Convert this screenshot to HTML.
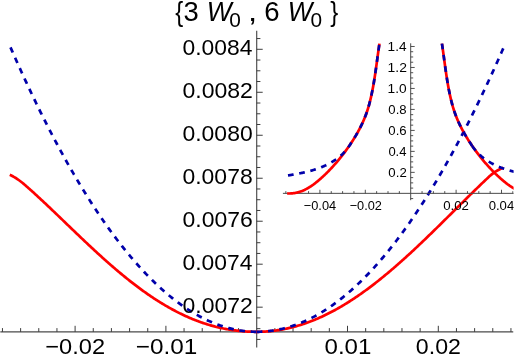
<!DOCTYPE html>
<html><head><meta charset="utf-8"><title>plot</title>
<style>
html,body{margin:0;padding:0;background:#fff;}
body{width:515px;height:361px;overflow:hidden;font-family:"Liberation Sans",sans-serif;}
svg{display:block;}
</style></head><body>
<svg width="515" height="361" viewBox="0 0 515 361">
<rect width="515" height="361" fill="#fff"/>
<g fill="none">
<line x1="0.3" x2="513.4" y1="331.80" y2="331.80" stroke="#4a4a4a" stroke-width="1.15"/>
<line x1="256.70" x2="256.70" y1="30.8" y2="347.6" stroke="#4a4a4a" stroke-width="1.15"/>
<path d="M2.46,331.80V328.10M20.62,331.80V328.10M38.78,331.80V328.10M56.94,331.80V328.10M75.10,331.80V325.80M93.26,331.80V328.10M111.42,331.80V328.10M129.58,331.80V328.10M147.74,331.80V328.10M165.90,331.80V325.80M184.06,331.80V328.10M202.22,331.80V328.10M220.38,331.80V328.10M238.54,331.80V328.10M274.86,331.80V328.10M293.02,331.80V328.10M311.18,331.80V328.10M329.34,331.80V328.10M347.50,331.80V325.80M365.66,331.80V328.10M383.82,331.80V328.10M401.98,331.80V328.10M420.14,331.80V328.10M438.30,331.80V325.80M456.46,331.80V328.10M474.62,331.80V328.10M492.78,331.80V328.10M510.94,331.80V328.10M256.70,339.41H260.40M256.70,328.67H260.40M256.70,317.92H260.40M256.70,307.18H262.70M256.70,296.43H260.40M256.70,285.69H260.40M256.70,274.94H260.40M256.70,264.20H262.70M256.70,253.45H260.40M256.70,242.71H260.40M256.70,231.96H260.40M256.70,221.22H262.70M256.70,210.47H260.40M256.70,199.73H260.40M256.70,188.98H260.40M256.70,178.24H262.70M256.70,167.49H260.40M256.70,156.75H260.40M256.70,146.00H260.40M256.70,135.26H262.70M256.70,124.51H260.40M256.70,113.77H260.40M256.70,103.02H260.40M256.70,92.28H262.70M256.70,81.53H260.40M256.70,70.79H260.40M256.70,60.04H260.40M256.70,49.30H262.70M256.70,38.55H260.40" stroke="#333" stroke-width="0.95"/>
</g>
<g fill="none" stroke-width="2.7" stroke-linejoin="round">
<path d="M9.80,174.74 L10.79,175.22 L11.78,175.72 L12.77,176.25 L13.76,176.81 L14.74,177.39 L15.73,178.01 L16.72,178.64 L17.71,179.31 L18.70,180.00 L19.69,180.72 L20.68,181.46 L21.67,182.23 L22.66,183.02 L23.65,183.84 L24.63,184.69 L25.62,185.55 L26.61,186.42 L27.60,187.29 L28.59,188.17 L29.58,189.05 L30.57,189.94 L31.56,190.82 L32.55,191.72 L33.54,192.61 L34.52,193.51 L35.51,194.41 L36.50,195.32 L37.49,196.23 L38.48,197.14 L39.47,198.06 L40.46,198.97 L41.45,199.90 L42.44,200.82 L43.43,201.74 L44.41,202.67 L45.40,203.60 L46.39,204.53 L47.38,205.47 L48.37,206.40 L49.36,207.34 L50.35,208.28 L51.34,209.22 L52.33,210.17 L53.32,211.11 L54.30,212.06 L55.29,213.00 L56.28,213.95 L57.27,214.90 L58.26,215.85 L59.25,216.80 L60.24,217.75 L61.23,218.70 L62.22,219.65 L63.20,220.60 L64.19,221.55 L65.18,222.51 L66.17,223.46 L67.16,224.41 L68.15,225.36 L69.14,226.31 L70.13,227.27 L71.12,228.22 L72.11,229.17 L73.09,230.12 L74.08,231.07 L75.07,232.02 L76.06,232.96 L77.05,233.91 L78.04,234.85 L79.03,235.80 L80.02,236.74 L81.01,237.68 L82.00,238.62 L82.98,239.56 L83.97,240.50 L84.96,241.43 L85.95,242.37 L86.94,243.30 L87.93,244.23 L88.92,245.16 L89.91,246.08 L90.90,247.01 L91.89,247.93 L92.87,248.85 L93.86,249.76 L94.85,250.68 L95.84,251.59 L96.83,252.50 L97.82,253.41 L98.81,254.31 L99.80,255.21 L100.79,256.11 L101.77,257.00 L102.76,257.89 L103.75,258.78 L104.74,259.67 L105.73,260.55 L106.72,261.43 L107.71,262.30 L108.70,263.18 L109.69,264.04 L110.68,264.91 L111.66,265.77 L112.65,266.63 L113.64,267.48 L114.63,268.33 L115.62,269.18 L116.61,270.02 L117.60,270.85 L118.59,271.69 L119.58,272.52 L120.57,273.34 L121.55,274.16 L122.54,274.98 L123.53,275.79 L124.52,276.60 L125.51,277.40 L126.50,278.20 L127.49,279.00 L128.48,279.78 L129.47,280.57 L130.46,281.35 L131.44,282.12 L132.43,282.89 L133.42,283.66 L134.41,284.42 L135.40,285.17 L136.39,285.92 L137.38,286.67 L138.37,287.41 L139.36,288.14 L140.35,288.87 L141.33,289.60 L142.32,290.32 L143.31,291.03 L144.30,291.74 L145.29,292.44 L146.28,293.14 L147.27,293.83 L148.26,294.52 L149.25,295.20 L150.23,295.87 L151.22,296.54 L152.21,297.20 L153.20,297.86 L154.19,298.51 L155.18,299.16 L156.17,299.80 L157.16,300.43 L158.15,301.06 L159.14,301.68 L160.12,302.30 L161.11,302.91 L162.10,303.52 L163.09,304.11 L164.08,304.71 L165.07,305.29 L166.06,305.87 L167.05,306.45 L168.04,307.01 L169.03,307.58 L170.01,308.13 L171.00,308.68 L171.99,309.22 L172.98,309.76 L173.97,310.29 L174.96,310.81 L175.95,311.33 L176.94,311.84 L177.93,312.35 L178.92,312.84 L179.90,313.34 L180.89,313.82 L181.88,314.30 L182.87,314.77 L183.86,315.24 L184.85,315.70 L185.84,316.15 L186.83,316.60 L187.82,317.04 L188.81,317.47 L189.79,317.90 L190.78,318.32 L191.77,318.73 L192.76,319.14 L193.75,319.54 L194.74,319.93 L195.73,320.32 L196.72,320.70 L197.71,321.08 L198.69,321.44 L199.68,321.81 L200.67,322.16 L201.66,322.51 L202.65,322.85 L203.64,323.18 L204.63,323.51 L205.62,323.83 L206.61,324.15 L207.60,324.46 L208.58,324.76 L209.57,325.05 L210.56,325.34 L211.55,325.63 L212.54,325.90 L213.53,326.17 L214.52,326.43 L215.51,326.69 L216.50,326.94 L217.49,327.18 L218.47,327.42 L219.46,327.65 L220.45,327.87 L221.44,328.09 L222.43,328.30 L223.42,328.50 L224.41,328.70 L225.40,328.89 L226.39,329.08 L227.38,329.26 L228.36,329.43 L229.35,329.60 L230.34,329.76 L231.33,329.91 L232.32,330.06 L233.31,330.20 L234.30,330.34 L235.29,330.46 L236.28,330.59 L237.26,330.70 L238.25,330.81 L239.24,330.92 L240.23,331.02 L241.22,331.11 L242.21,331.20 L243.20,331.28 L244.19,331.35 L245.18,331.42 L246.17,331.48 L247.15,331.54 L248.14,331.59 L249.13,331.64 L250.12,331.68 L251.11,331.71 L252.10,331.74 L253.09,331.76 L254.08,331.78 L255.07,331.79 L256.06,331.80 L257.04,331.80 L258.03,331.79 L259.02,331.78 L260.01,331.76 L261.00,331.73 L261.99,331.70 L262.98,331.66 L263.97,331.61 L264.96,331.56 L265.95,331.50 L266.93,331.43 L267.92,331.35 L268.91,331.27 L269.90,331.18 L270.89,331.08 L271.88,330.98 L272.87,330.87 L273.86,330.75 L274.85,330.62 L275.84,330.49 L276.82,330.35 L277.81,330.21 L278.80,330.05 L279.79,329.89 L280.78,329.73 L281.77,329.55 L282.76,329.37 L283.75,329.18 L284.74,328.99 L285.72,328.79 L286.71,328.58 L287.70,328.36 L288.69,328.14 L289.68,327.91 L290.67,327.67 L291.66,327.43 L292.65,327.18 L293.64,326.92 L294.63,326.65 L295.61,326.38 L296.60,326.10 L297.59,325.82 L298.58,325.52 L299.57,325.22 L300.56,324.92 L301.55,324.60 L302.54,324.28 L303.53,323.95 L304.52,323.62 L305.50,323.28 L306.49,322.93 L307.48,322.58 L308.47,322.22 L309.46,321.85 L310.45,321.47 L311.44,321.09 L312.43,320.70 L313.42,320.31 L314.41,319.90 L315.39,319.49 L316.38,319.08 L317.37,318.66 L318.36,318.23 L319.35,317.79 L320.34,317.35 L321.33,316.90 L322.32,316.45 L323.31,315.98 L324.29,315.51 L325.28,315.04 L326.27,314.56 L327.26,314.07 L328.25,313.58 L329.24,313.07 L330.23,312.57 L331.22,312.05 L332.21,311.53 L333.20,311.01 L334.18,310.47 L335.17,309.94 L336.16,309.39 L337.15,308.84 L338.14,308.28 L339.13,307.72 L340.12,307.15 L341.11,306.57 L342.10,305.99 L343.09,305.40 L344.07,304.80 L345.06,304.20 L346.05,303.60 L347.04,302.99 L348.03,302.37 L349.02,301.74 L350.01,301.11 L351.00,300.48 L351.99,299.84 L352.98,299.19 L353.96,298.53 L354.95,297.88 L355.94,297.21 L356.93,296.54 L357.92,295.87 L358.91,295.18 L359.90,294.50 L360.89,293.80 L361.88,293.11 L362.87,292.40 L363.85,291.70 L364.84,290.98 L365.83,290.26 L366.82,289.54 L367.81,288.81 L368.80,288.07 L369.79,287.33 L370.78,286.59 L371.77,285.84 L372.75,285.08 L373.74,284.32 L374.73,283.56 L375.72,282.79 L376.71,282.01 L377.70,281.23 L378.69,280.45 L379.68,279.66 L380.67,278.87 L381.66,278.07 L382.64,277.27 L383.63,276.46 L384.62,275.65 L385.61,274.83 L386.60,274.01 L387.59,273.19 L388.58,272.36 L389.57,271.52 L390.56,270.69 L391.55,269.84 L392.53,269.00 L393.52,268.15 L394.51,267.30 L395.50,266.44 L396.49,265.58 L397.48,264.71 L398.47,263.84 L399.46,262.97 L400.45,262.09 L401.44,261.21 L402.42,260.33 L403.41,259.44 L404.40,258.55 L405.39,257.66 L406.38,256.76 L407.37,255.86 L408.36,254.96 L409.35,254.05 L410.34,253.14 L411.33,252.23 L412.31,251.31 L413.30,250.39 L414.29,249.47 L415.28,248.54 L416.27,247.62 L417.26,246.69 L418.25,245.76 L419.24,244.82 L420.23,243.88 L421.21,242.94 L422.20,242.00 L423.19,241.06 L424.18,240.11 L425.17,239.16 L426.16,238.21 L427.15,237.26 L428.14,236.30 L429.13,235.34 L430.12,234.38 L431.10,233.42 L432.09,232.46 L433.08,231.50 L434.07,230.53 L435.06,229.57 L436.05,228.60 L437.04,227.63 L438.03,226.66 L439.02,225.68 L440.01,224.71 L440.99,223.74 L441.98,222.76 L442.97,221.79 L443.96,220.81 L444.95,219.83 L445.94,218.85 L446.93,217.87 L447.92,216.89 L448.91,215.91 L449.90,214.93 L450.88,213.95 L451.87,212.97 L452.86,211.99 L453.85,211.01 L454.84,210.03 L455.83,209.05 L456.82,208.06 L457.81,207.08 L458.80,206.10 L459.78,205.12 L460.77,204.14 L461.76,203.16 L462.75,202.19 L463.74,201.21 L464.73,200.23 L465.72,199.26 L466.71,198.28 L467.70,197.31 L468.69,196.33 L469.67,195.36 L470.66,194.39 L471.65,193.42 L472.64,192.46 L473.63,191.49 L474.62,190.52 L475.61,189.56 L476.60,188.60 L477.59,187.64 L478.58,186.69 L479.56,185.73 L480.55,184.78 L481.54,183.83 L482.53,182.88 L483.52,181.94 L484.51,180.99 L485.50,180.05 L486.49,179.12 L487.48,178.18 L488.47,177.25 L489.45,176.33 L490.44,175.46 L491.43,174.62 L492.42,173.83 L493.41,173.08 L494.40,172.37 L495.39,171.70 L496.38,171.08 L497.37,170.50 L498.36,169.96 L499.34,169.46 L500.33,169.01 L501.32,168.60 L502.31,168.23 L503.30,167.90" stroke="#ff0000"/>
<path d="M10.50,47.35 L11.49,49.61 L12.48,51.86 L13.47,54.10 L14.46,56.33 L15.44,58.56 L16.43,60.77 L17.42,62.98 L18.41,65.18 L19.40,67.36 L20.39,69.54 L21.38,71.72 L22.37,73.88 L23.35,76.03 L24.34,78.18 L25.33,80.31 L26.32,82.44 L27.31,84.56 L28.30,86.67 L29.29,88.77 L30.28,90.86 L31.26,92.95 L32.25,95.02 L33.24,97.09 L34.23,99.14 L35.22,101.19 L36.21,103.23 L37.20,105.26 L38.19,107.28 L39.17,109.30 L40.16,111.30 L41.15,113.29 L42.14,115.28 L43.13,117.26 L44.12,119.22 L45.11,121.18 L46.10,123.13 L47.08,125.08 L48.07,127.01 L49.06,128.93 L50.05,130.85 L51.04,132.75 L52.03,134.65 L53.02,136.54 L54.01,138.42 L54.99,140.29 L55.98,142.15 L56.97,144.00 L57.96,145.85 L58.95,147.68 L59.94,149.51 L60.93,151.32 L61.92,153.13 L62.90,154.93 L63.89,156.72 L64.88,158.50 L65.87,160.27 L66.86,162.04 L67.85,163.79 L68.84,165.54 L69.83,167.27 L70.81,169.00 L71.80,170.72 L72.79,172.43 L73.78,174.13 L74.77,175.82 L75.76,177.50 L76.75,179.17 L77.74,180.84 L78.72,182.49 L79.71,184.14 L80.70,185.78 L81.69,187.41 L82.68,189.03 L83.67,190.64 L84.66,192.24 L85.65,193.83 L86.63,195.41 L87.62,196.99 L88.61,198.55 L89.60,200.11 L90.59,201.66 L91.58,203.20 L92.57,204.73 L93.56,206.25 L94.54,207.76 L95.53,209.26 L96.52,210.75 L97.51,212.24 L98.50,213.71 L99.49,215.18 L100.48,216.63 L101.47,218.08 L102.45,219.52 L103.44,220.95 L104.43,222.37 L105.42,223.78 L106.41,225.19 L107.40,226.58 L108.39,227.96 L109.38,229.34 L110.36,230.70 L111.35,232.06 L112.34,233.41 L113.33,234.75 L114.32,236.08 L115.31,237.40 L116.30,238.71 L117.29,240.01 L118.27,241.31 L119.26,242.59 L120.25,243.87 L121.24,245.13 L122.23,246.39 L123.22,247.64 L124.21,248.88 L125.20,250.11 L126.18,251.33 L127.17,252.54 L128.16,253.74 L129.15,254.94 L130.14,256.12 L131.13,257.29 L132.12,258.46 L133.11,259.62 L134.09,260.76 L135.08,261.90 L136.07,263.03 L137.06,264.15 L138.05,265.26 L139.04,266.37 L140.03,267.46 L141.02,268.54 L142.00,269.62 L142.99,270.68 L143.98,271.74 L144.97,272.79 L145.96,273.82 L146.95,274.85 L147.94,275.87 L148.93,276.88 L149.91,277.88 L150.90,278.88 L151.89,279.86 L152.88,280.83 L153.87,281.80 L154.86,282.75 L155.85,283.70 L156.84,284.64 L157.82,285.56 L158.81,286.48 L159.80,287.39 L160.79,288.29 L161.78,289.18 L162.77,290.07 L163.76,290.94 L164.75,291.80 L165.73,292.66 L166.72,293.50 L167.71,294.34 L168.70,295.17 L169.69,295.98 L170.68,296.79 L171.67,297.59 L172.66,298.38 L173.64,299.16 L174.63,299.93 L175.62,300.70 L176.61,301.45 L177.60,302.19 L178.59,302.93 L179.58,303.65 L180.57,304.37 L181.55,305.08 L182.54,305.78 L183.53,306.46 L184.52,307.14 L185.51,307.81 L186.50,308.48 L187.49,309.13 L188.48,309.77 L189.46,310.40 L190.45,311.03 L191.44,311.64 L192.43,312.25 L193.42,312.85 L194.41,313.43 L195.40,314.01 L196.39,314.58 L197.37,315.14 L198.36,315.69 L199.35,316.23 L200.34,316.76 L201.33,317.29 L202.32,317.80 L203.31,318.30 L204.30,318.80 L205.28,319.28 L206.27,319.76 L207.26,320.23 L208.25,320.69 L209.24,321.14 L210.23,321.57 L211.22,322.01 L212.21,322.43 L213.19,322.84 L214.18,323.24 L215.17,323.63 L216.16,324.02 L217.15,324.39 L218.14,324.76 L219.13,325.12 L220.12,325.46 L221.10,325.80 L222.09,326.13 L223.08,326.45 L224.07,326.76 L225.06,327.06 L226.05,327.35 L227.04,327.63 L228.03,327.91 L229.01,328.17 L230.00,328.42 L230.99,328.67 L231.98,328.91 L232.97,329.13 L233.96,329.35 L234.95,329.56 L235.94,329.76 L236.92,329.95 L237.91,330.13 L238.90,330.30 L239.89,330.46 L240.88,330.61 L241.87,330.76 L242.86,330.89 L243.85,331.02 L244.83,331.13 L245.82,331.24 L246.81,331.34 L247.80,331.42 L248.79,331.50 L249.78,331.57 L250.77,331.63 L251.76,331.68 L252.74,331.73 L253.73,331.76 L254.72,331.78 L255.71,331.80 L256.70,331.80" stroke="#0000aa" stroke-dasharray="5.7 5.7"/>
<path d="M256.70,331.80 L257.69,331.80 L258.68,331.78 L259.67,331.76 L260.66,331.73 L261.65,331.68 L262.64,331.63 L263.63,331.57 L264.62,331.51 L265.61,331.43 L266.60,331.34 L267.59,331.25 L268.58,331.14 L269.57,331.03 L270.57,330.90 L271.56,330.77 L272.55,330.63 L273.54,330.48 L274.53,330.32 L275.52,330.16 L276.51,329.98 L277.50,329.79 L278.49,329.60 L279.48,329.40 L280.47,329.19 L281.46,328.97 L282.45,328.74 L283.44,328.50 L284.43,328.25 L285.42,327.99 L286.41,327.73 L287.40,327.46 L288.39,327.17 L289.38,326.88 L290.37,326.58 L291.36,326.27 L292.35,325.95 L293.34,325.62 L294.33,325.29 L295.32,324.94 L296.31,324.59 L297.30,324.22 L298.30,323.85 L299.29,323.47 L300.28,323.08 L301.27,322.68 L302.26,322.27 L303.25,321.85 L304.24,321.42 L305.23,320.98 L306.22,320.53 L307.21,320.08 L308.20,319.61 L309.19,319.13 L310.18,318.65 L311.17,318.15 L312.16,317.65 L313.15,317.13 L314.14,316.61 L315.13,316.08 L316.12,315.53 L317.11,314.98 L318.10,314.41 L319.09,313.84 L320.08,313.26 L321.07,312.67 L322.06,312.07 L323.05,311.46 L324.04,310.84 L325.03,310.21 L326.03,309.58 L327.02,308.93 L328.01,308.27 L329.00,307.61 L329.99,306.93 L330.98,306.25 L331.97,305.56 L332.96,304.86 L333.95,304.14 L334.94,303.42 L335.93,302.69 L336.92,301.95 L337.91,301.21 L338.90,300.45 L339.89,299.68 L340.88,298.91 L341.87,298.12 L342.86,297.33 L343.85,296.52 L344.84,295.71 L345.83,294.89 L346.82,294.06 L347.81,293.22 L348.80,292.37 L349.79,291.51 L350.78,290.64 L351.77,289.76 L352.77,288.87 L353.76,287.98 L354.75,287.07 L355.74,286.16 L356.73,285.24 L357.72,284.30 L358.71,283.36 L359.70,282.41 L360.69,281.45 L361.68,280.48 L362.67,279.50 L363.66,278.51 L364.65,277.52 L365.64,276.51 L366.63,275.49 L367.62,274.47 L368.61,273.44 L369.60,272.39 L370.59,271.34 L371.58,270.28 L372.57,269.21 L373.56,268.13 L374.55,267.04 L375.54,265.94 L376.53,264.83 L377.52,263.72 L378.51,262.59 L379.50,261.46 L380.50,260.31 L381.49,259.16 L382.48,258.00 L383.47,256.83 L384.46,255.65 L385.45,254.46 L386.44,253.26 L387.43,252.05 L388.42,250.83 L389.41,249.61 L390.40,248.37 L391.39,247.13 L392.38,245.87 L393.37,244.61 L394.36,243.34 L395.35,242.06 L396.34,240.77 L397.33,239.47 L398.32,238.16 L399.31,236.84 L400.30,235.51 L401.29,234.18 L402.28,232.83 L403.27,231.48 L404.26,230.11 L405.25,228.74 L406.24,227.36 L407.23,225.97 L408.23,224.57 L409.22,223.16 L410.21,221.74 L411.20,220.32 L412.19,218.88 L413.18,217.43 L414.17,215.98 L415.16,214.52 L416.15,213.04 L417.14,211.56 L418.13,210.07 L419.12,208.57 L420.11,207.06 L421.10,205.55 L422.09,204.02 L423.08,202.48 L424.07,200.94 L425.06,199.38 L426.05,197.82 L427.04,196.25 L428.03,194.67 L429.02,193.08 L430.01,191.48 L431.00,189.87 L431.99,188.25 L432.98,186.63 L433.97,184.99 L434.97,183.35 L435.96,181.69 L436.95,180.03 L437.94,178.36 L438.93,176.68 L439.92,174.99 L440.91,173.29 L441.90,171.58 L442.89,169.87 L443.88,168.14 L444.87,166.41 L445.86,164.66 L446.85,162.91 L447.84,161.15 L448.83,159.38 L449.82,157.60 L450.81,155.81 L451.80,154.01 L452.79,152.21 L453.78,150.39 L454.77,148.57 L455.76,146.73 L456.75,144.89 L457.74,143.04 L458.73,141.18 L459.72,139.31 L460.71,137.43 L461.70,135.54 L462.70,133.65 L463.69,131.74 L464.68,129.83 L465.67,127.91 L466.66,125.98 L467.65,124.03 L468.64,122.09 L469.63,120.13 L470.62,118.16 L471.61,116.18 L472.60,114.20 L473.59,112.20 L474.58,110.20 L475.57,108.19 L476.56,106.17 L477.55,104.14 L478.54,102.10 L479.53,100.05 L480.52,98.00 L481.51,95.93 L482.50,93.86 L483.49,91.77 L484.48,89.68 L485.47,87.58 L486.46,85.47 L487.45,83.35 L488.44,81.23 L489.43,79.09 L490.43,76.95 L491.42,74.79 L492.41,72.63 L493.40,70.46 L494.39,68.28 L495.38,66.09 L496.37,63.89 L497.36,61.69 L498.35,59.47 L499.34,57.25 L500.33,55.01 L501.32,52.77 L502.31,50.52 L503.30,48.26" stroke="#0000aa" stroke-dasharray="5.7 5.7"/>
</g>
<g font-family="Liberation Sans, sans-serif" fill="#000" style="filter:grayscale(1)">
<text transform="translate(45.32,354.30) scale(1.0498,1)" font-size="22.5">−0.02</text>
<text transform="translate(135.78,354.30) scale(1.0812,1)" font-size="22.5">−0.01</text>
<text transform="translate(324.54,354.30) scale(1.0703,1)" font-size="22.5">0.01</text>
<text transform="translate(415.87,354.30) scale(1.0302,1)" font-size="22.5">0.02</text>
<text transform="translate(182.48,312.98) scale(1.0236,1)" font-size="22.5">0.0072</text>
<text transform="translate(182.48,270.00) scale(1.0167,1)" font-size="22.5">0.0074</text>
<text transform="translate(182.48,227.02) scale(1.0218,1)" font-size="22.5">0.0076</text>
<text transform="translate(182.48,184.04) scale(1.0201,1)" font-size="22.5">0.0078</text>
<text transform="translate(182.48,141.06) scale(1.0201,1)" font-size="22.5">0.0080</text>
<text transform="translate(182.48,98.08) scale(1.0236,1)" font-size="22.5">0.0082</text>
<text transform="translate(182.48,55.10) scale(1.0167,1)" font-size="22.5">0.0084</text>
<text transform="translate(175.24,21.40) scale(0.8633,1)" font-size="27.8">{</text>
<text transform="translate(183.40,21.40) scale(0.9873,1)" font-size="27.8">3</text>
<text transform="translate(206.65,21.40) scale(0.9503,1)" font-size="27.8" font-style="italic">W</text>
<text transform="translate(229.17,26.80) scale(1.0020,1)" font-size="20.8">0</text>
<text transform="translate(248.03,21.40) scale(1.1871,1)" font-size="27.8">,</text>
<text transform="translate(264.32,21.40) scale(0.9931,1)" font-size="27.8">6</text>
<text transform="translate(287.78,21.40) scale(0.9387,1)" font-size="27.8" font-style="italic">W</text>
<text transform="translate(310.47,26.80) scale(1.0020,1)" font-size="20.8">0</text>
<text transform="translate(330.14,21.40) scale(0.8633,1)" font-size="27.8">}</text>
</g>
<g fill="none">
<line x1="282.9" x2="517" y1="193.35" y2="193.35" stroke="#4a4a4a" stroke-width="1"/>
<line x1="410.70" x2="410.70" y1="43.3" y2="200.2" stroke="#4a4a4a" stroke-width="1"/>
<path d="M285.85,193.35V191.15M297.20,193.35V191.15M308.55,193.35V191.15M319.90,193.35V189.75M331.25,193.35V191.15M342.60,193.35V191.15M353.95,193.35V191.15M365.30,193.35V189.75M376.65,193.35V191.15M388.00,193.35V191.15M399.35,193.35V191.15M422.05,193.35V191.15M433.40,193.35V191.15M444.75,193.35V191.15M456.10,193.35V189.75M467.45,193.35V191.15M478.80,193.35V191.15M490.15,193.35V191.15M501.50,193.35V189.75M512.85,193.35V191.15M410.70,198.59H413.20M410.70,188.10H413.20M410.70,182.86H413.20M410.70,177.61H413.20M410.70,172.37H414.70M410.70,167.12H413.20M410.70,161.88H413.20M410.70,156.63H413.20M410.70,151.39H414.70M410.70,146.14H413.20M410.70,140.90H413.20M410.70,135.65H413.20M410.70,130.41H414.70M410.70,125.16H413.20M410.70,119.92H413.20M410.70,114.67H413.20M410.70,109.43H414.70M410.70,104.18H413.20M410.70,98.94H413.20M410.70,93.69H413.20M410.70,88.45H414.70M410.70,83.20H413.20M410.70,77.96H413.20M410.70,72.71H413.20M410.70,67.47H414.70M410.70,62.22H413.20M410.70,56.98H413.20M410.70,51.73H413.20M410.70,46.49H414.70" stroke="#333" stroke-width="0.85"/>
</g>
<g fill="none" stroke-width="2.7" stroke-linejoin="round">
<path d="M287.16,193.46 L287.84,193.48 L288.51,193.50 L289.18,193.50 L289.84,193.49 L290.49,193.47 L291.15,193.43 L291.79,193.39 L292.44,193.33 L293.07,193.26 L293.71,193.17 L294.34,193.08 L294.96,192.98 L295.58,192.86 L296.20,192.73 L296.81,192.60 L297.42,192.45 L298.02,192.29 L298.62,192.12 L299.22,191.95 L299.81,191.76 L300.40,191.56 L300.98,191.36 L301.56,191.14 L302.14,190.92 L302.71,190.69 L303.28,190.44 L303.85,190.19 L304.41,189.94 L304.97,189.67 L305.52,189.40 L306.07,189.12 L306.62,188.83 L307.16,188.53 L307.71,188.23 L308.24,187.92 L308.78,187.60 L309.31,187.28 L309.84,186.95 L310.37,186.61 L310.89,186.27 L311.41,185.92 L311.93,185.57 L312.44,185.21 L312.96,184.84 L313.47,184.48 L313.97,184.10 L314.48,183.72 L314.98,183.34 L315.48,182.95 L315.97,182.56 L316.47,182.16 L316.96,181.76 L317.45,181.36 L317.94,180.95 L318.43,180.54 L318.91,180.13 L319.39,179.72 L319.87,179.30 L320.35,178.88 L320.82,178.45 L321.30,178.03 L321.77,177.60 L322.24,177.17 L322.71,176.74 L323.18,176.31 L323.64,175.87 L324.11,175.44 L324.57,175.00 L325.03,174.56 L325.49,174.12 L325.94,173.67 L326.40,173.23 L326.85,172.78 L327.30,172.33 L327.75,171.88 L328.20,171.43 L328.65,170.98 L329.09,170.52 L329.54,170.06 L329.98,169.60 L330.42,169.14 L330.85,168.68 L331.29,168.22 L331.72,167.75 L332.16,167.29 L332.59,166.82 L333.02,166.35 L333.45,165.88 L333.87,165.41 L334.30,164.93 L334.72,164.46 L335.14,163.98 L335.56,163.50 L335.98,163.02 L336.39,162.54 L336.80,162.06 L337.22,161.58 L337.63,161.09 L338.04,160.60 L338.44,160.12 L338.85,159.63 L339.25,159.14 L339.66,158.64 L340.06,158.15 L340.45,157.66 L340.85,157.16 L341.25,156.66 L341.64,156.16 L342.03,155.66 L342.42,155.16 L342.81,154.66 L343.20,154.16 L343.58,153.66 L343.97,153.15 L344.35,152.64 L344.73,152.14 L345.11,151.63 L345.49,151.12 L345.86,150.61 L346.23,150.09 L346.61,149.58 L346.98,149.07 L347.35,148.55 L347.71,148.04 L348.08,147.52 L348.44,147.00 L348.80,146.48 L349.16,145.96 L349.52,145.44 L349.88,144.92 L350.23,144.39 L350.59,143.87 L350.94,143.34 L351.29,142.82 L351.64,142.29 L351.98,141.76 L352.32,141.23 L352.67,140.70 L353.01,140.17 L353.34,139.64 L353.68,139.10 L354.01,138.57 L354.34,138.03 L354.67,137.50 L355.00,136.96 L355.33,136.42 L355.65,135.88 L355.97,135.34 L356.29,134.79 L356.60,134.25 L356.92,133.70 L357.23,133.16 L357.54,132.61 L357.85,132.06 L358.15,131.51 L358.45,130.96 L358.75,130.41 L359.05,129.85 L359.34,129.30 L359.63,128.74 L359.92,128.19 L360.21,127.63 L360.49,127.07 L360.77,126.51 L361.05,125.94 L361.33,125.38 L361.60,124.81 L361.87,124.25 L362.14,123.68 L362.40,123.11 L362.66,122.54 L362.92,121.97 L363.18,121.40 L363.43,120.82 L363.68,120.25 L363.93,119.67 L364.17,119.09 L364.41,118.51 L364.65,117.93 L364.89,117.34 L365.12,116.76 L365.35,116.17 L365.57,115.59 L365.79,115.00 L366.01,114.41 L366.23,113.82 L366.44,113.22 L366.65,112.63 L366.85,112.03 L367.06,111.44 L367.26,110.84 L367.45,110.24 L367.64,109.64 L367.83,109.03 L368.02,108.43 L368.20,107.83 L368.39,107.22 L368.56,106.61 L368.74,106.00 L368.91,105.39 L369.08,104.78 L369.25,104.17 L369.41,103.56 L369.57,102.95 L369.73,102.33 L369.89,101.72 L370.05,101.10 L370.20,100.48 L370.35,99.87 L370.50,99.25 L370.64,98.63 L370.79,98.01 L370.93,97.39 L371.07,96.77 L371.21,96.15 L371.34,95.53 L371.48,94.91 L371.61,94.29 L371.74,93.66 L371.87,93.04 L372.00,92.42 L372.13,91.79 L372.25,91.17 L372.37,90.55 L372.50,89.92 L372.62,89.30 L372.73,88.68 L372.85,88.05 L372.97,87.43 L373.08,86.80 L373.20,86.18 L373.31,85.55 L373.42,84.93 L373.53,84.30 L373.64,83.67 L373.74,83.05 L373.85,82.42 L373.96,81.80 L374.06,81.17 L374.16,80.54 L374.26,79.92 L374.37,79.29 L374.47,78.66 L374.56,78.03 L374.66,77.41 L374.76,76.78 L374.86,76.15 L374.95,75.53 L375.05,74.90 L375.14,74.27 L375.23,73.64 L375.33,73.02 L375.42,72.39 L375.51,71.76 L375.60,71.13 L375.69,70.51 L375.78,69.88 L375.87,69.25 L375.96,68.62 L376.05,68.00 L376.13,67.37 L376.22,66.74 L376.31,66.11 L376.40,65.49 L376.48,64.86 L376.57,64.23 L376.65,63.60 L376.74,62.98 L376.82,62.35 L376.91,61.72 L376.99,61.10 L377.08,60.47 L377.16,59.84 L377.25,59.22 L377.33,58.59 L377.42,57.97 L377.50,57.34 L377.59,56.71 L377.67,56.09 L377.76,55.46 L377.84,54.84 L377.93,54.21 L378.02,53.59 L378.10,52.96 L378.19,52.34 L378.27,51.72 L378.36,51.09 L378.45,50.47 L378.54,49.85 L378.62,49.22 L378.71,48.60 L378.80,47.98 L378.89,47.35 L378.98,46.73 L379.07,46.11 L379.16,45.49 L379.25,44.87 L379.35,44.25 L379.44,43.63" stroke="#ff0000"/>
<path d="M441.96,43.63 L442.05,44.25 L442.15,44.87 L442.24,45.49 L442.33,46.11 L442.42,46.73 L442.51,47.35 L442.60,47.98 L442.69,48.60 L442.78,49.22 L442.86,49.85 L442.95,50.47 L443.04,51.09 L443.13,51.72 L443.21,52.34 L443.30,52.96 L443.38,53.59 L443.47,54.21 L443.56,54.84 L443.64,55.46 L443.73,56.09 L443.81,56.71 L443.90,57.34 L443.98,57.97 L444.07,58.59 L444.15,59.22 L444.24,59.84 L444.32,60.47 L444.41,61.10 L444.49,61.72 L444.58,62.35 L444.66,62.98 L444.75,63.60 L444.83,64.23 L444.92,64.86 L445.00,65.49 L445.09,66.11 L445.18,66.74 L445.27,67.37 L445.35,68.00 L445.44,68.62 L445.53,69.25 L445.62,69.88 L445.71,70.51 L445.80,71.13 L445.89,71.76 L445.98,72.39 L446.07,73.02 L446.17,73.64 L446.26,74.27 L446.35,74.90 L446.45,75.53 L446.54,76.15 L446.64,76.78 L446.74,77.41 L446.84,78.03 L446.93,78.66 L447.03,79.29 L447.14,79.92 L447.24,80.54 L447.34,81.17 L447.44,81.80 L447.55,82.42 L447.66,83.05 L447.76,83.67 L447.87,84.30 L447.98,84.93 L448.09,85.55 L448.20,86.18 L448.32,86.80 L448.43,87.43 L448.55,88.05 L448.67,88.68 L448.78,89.30 L448.90,89.92 L449.03,90.55 L449.15,91.17 L449.27,91.79 L449.40,92.42 L449.53,93.04 L449.66,93.66 L449.79,94.29 L449.92,94.91 L450.06,95.53 L450.19,96.15 L450.33,96.77 L450.47,97.39 L450.61,98.01 L450.76,98.63 L450.90,99.25 L451.05,99.87 L451.20,100.48 L451.35,101.10 L451.51,101.72 L451.67,102.33 L451.83,102.95 L451.99,103.56 L452.15,104.17 L452.32,104.78 L452.49,105.39 L452.66,106.00 L452.84,106.61 L453.01,107.22 L453.20,107.83 L453.38,108.43 L453.57,109.03 L453.76,109.64 L453.95,110.24 L454.14,110.84 L454.34,111.44 L454.55,112.03 L454.75,112.63 L454.96,113.22 L455.17,113.82 L455.39,114.41 L455.61,115.00 L455.83,115.59 L456.05,116.17 L456.28,116.76 L456.51,117.34 L456.75,117.93 L456.99,118.51 L457.23,119.09 L457.47,119.67 L457.72,120.25 L457.97,120.82 L458.22,121.40 L458.48,121.97 L458.74,122.54 L459.00,123.11 L459.26,123.68 L459.53,124.25 L459.80,124.81 L460.07,125.38 L460.35,125.94 L460.63,126.51 L460.91,127.07 L461.19,127.63 L461.48,128.19 L461.77,128.74 L462.06,129.30 L462.35,129.85 L462.65,130.41 L462.95,130.96 L463.25,131.51 L463.55,132.06 L463.86,132.61 L464.17,133.16 L464.48,133.70 L464.80,134.25 L465.11,134.79 L465.43,135.34 L465.75,135.88 L466.07,136.42 L466.40,136.96 L466.73,137.50 L467.06,138.03 L467.39,138.57 L467.72,139.10 L468.06,139.64 L468.39,140.17 L468.73,140.70 L469.08,141.23 L469.42,141.76 L469.76,142.29 L470.11,142.82 L470.46,143.34 L470.81,143.87 L471.17,144.39 L471.52,144.92 L471.88,145.44 L472.24,145.96 L472.60,146.48 L472.96,147.00 L473.32,147.52 L473.69,148.04 L474.05,148.55 L474.42,149.07 L474.79,149.58 L475.17,150.09 L475.54,150.61 L475.91,151.12 L476.29,151.63 L476.67,152.14 L477.05,152.64 L477.43,153.15 L477.82,153.66 L478.20,154.16 L478.59,154.66 L478.98,155.16 L479.37,155.66 L479.76,156.16 L480.15,156.66 L480.55,157.16 L480.95,157.66 L481.34,158.15 L481.74,158.64 L482.15,159.14 L482.55,159.63 L482.96,160.12 L483.36,160.60 L483.77,161.09 L484.18,161.58 L484.60,162.06 L485.01,162.54 L485.42,163.02 L485.84,163.50 L486.26,163.98 L486.68,164.46 L487.10,164.93 L487.53,165.41 L487.95,165.88 L488.38,166.35 L488.81,166.82 L489.24,167.29 L489.68,167.75 L490.11,168.22 L490.55,168.68 L490.98,169.14 L491.42,169.60 L491.86,170.06 L492.31,170.52 L492.75,170.98 L493.20,171.43 L493.65,171.88 L494.10,172.33 L494.55,172.78 L495.00,173.23 L495.46,173.67 L495.91,174.12 L496.37,174.56 L496.83,175.00 L497.29,175.44 L497.76,175.87 L498.22,176.31 L498.69,176.74 L499.16,177.17 L499.63,177.60 L500.10,178.03 L500.58,178.45 L501.05,178.88 L501.53,179.30 L502.01,179.72 L502.49,180.13 L502.97,180.54 L503.46,180.95 L503.95,181.36 L504.44,181.76 L504.93,182.16 L505.43,182.56 L505.92,182.95 L506.42,183.34 L506.92,183.72 L507.43,184.10 L507.93,184.48 L508.44,184.84 L508.96,185.21 L509.47,185.57 L509.99,185.92 L510.51,186.27 L511.03,186.61 L511.56,186.95 L512.09,187.28 L512.62,187.60 L513.16,187.92 L513.69,188.23 L514.24,188.53 L514.78,188.83 L515.33,189.12 L515.88,189.40 L516.43,189.67 L516.99,189.94 L517.55,190.19 L518.12,190.44 L518.69,190.69 L519.26,190.92 L519.84,191.14 L520.42,191.36 L521.00,191.56 L521.59,191.76 L522.18,191.95 L522.78,192.12 L523.38,192.29 L523.98,192.45 L524.59,192.60 L525.20,192.73 L525.82,192.86 L526.44,192.98 L527.06,193.08 L527.69,193.17 L528.33,193.26 L528.96,193.33 L529.61,193.39 L530.25,193.43 L530.91,193.47 L531.56,193.49 L532.22,193.50 L532.89,193.50 L533.56,193.48 L534.24,193.46" stroke="#ff0000"/>
<path d="M288.00,175.48 L288.46,175.40 L288.92,175.32 L289.38,175.24 L289.84,175.16 L290.30,175.08 L290.76,175.00 L291.23,174.92 L291.69,174.84 L292.15,174.75 L292.61,174.67 L293.07,174.59 L293.53,174.51 L293.99,174.43 L294.45,174.34 L294.91,174.26 L295.37,174.17 L295.83,174.09 L296.29,174.00 L296.75,173.92 L297.21,173.83 L297.67,173.74 L298.13,173.65 L298.59,173.57 L299.05,173.48 L299.51,173.38 L299.97,173.29 L300.43,173.20 L300.89,173.11 L301.35,173.01 L301.81,172.92 L302.27,172.82 L302.73,172.72 L303.19,172.62 L303.64,172.52 L304.10,172.42 L304.56,172.32 L305.02,172.21 L305.47,172.11 L305.93,172.00 L306.39,171.89 L306.84,171.78 L307.30,171.67 L307.75,171.56 L308.21,171.44 L308.66,171.33 L309.12,171.21 L309.57,171.09 L310.02,170.97 L310.47,170.85 L310.93,170.72 L311.38,170.60 L311.83,170.47 L312.28,170.34 L312.73,170.21 L313.18,170.07 L313.63,169.94 L314.08,169.80 L314.53,169.66 L314.97,169.52 L315.42,169.37 L315.87,169.23 L316.31,169.08 L316.76,168.93 L317.20,168.78 L317.65,168.62 L318.09,168.47 L318.53,168.31 L318.97,168.15 L319.41,167.98 L319.85,167.82 L320.29,167.65 L320.73,167.48 L321.17,167.30 L321.60,167.13 L322.04,166.95 L322.47,166.77 L322.91,166.59 L323.34,166.41 L323.77,166.22 L324.20,166.03 L324.63,165.84 L325.06,165.64 L325.48,165.45 L325.91,165.25 L326.33,165.04 L326.76,164.84 L327.18,164.63 L327.60,164.42 L328.02,164.21 L328.44,163.99 L328.85,163.78 L329.27,163.56 L329.68,163.33 L330.09,163.11 L330.50,162.88 L330.91,162.65 L331.32,162.41 L331.72,162.18 L332.13,161.94 L332.53,161.70 L332.93,161.45 L333.33,161.20 L333.72,160.95 L334.11,160.70 L334.51,160.44 L334.90,160.18 L335.28,159.92 L335.67,159.66 L336.05,159.39 L336.43,159.12 L336.81,158.84 L337.19,158.56 L337.56,158.28 L337.93,158.00 L338.30,157.72 L338.67,157.43 L339.03,157.13 L339.39,156.84 L339.75,156.54 L340.11,156.24 L340.46,155.93 L340.81,155.63 L341.16,155.32 L341.51,155.00 L341.85,154.68 L342.19,154.36 L342.53,154.04 L342.86,153.71 L343.19,153.38 L343.52,153.05 L343.84,152.71 L344.16,152.37 L344.48,152.03 L344.80,151.68 L345.11,151.33 L345.42,150.97 L345.73,150.62 L346.03,150.26 L346.33,149.89 L346.62,149.52 L346.91,149.15 L347.20,148.78 L347.49,148.40 L347.77,148.02 L348.05,147.63 L348.32,147.25 L348.59,146.85 L348.86,146.46 L349.12,146.06 L349.16,145.96 L349.52,145.44 L349.88,144.92 L350.23,144.39 L350.59,143.87 L350.94,143.34 L351.29,142.82 L351.64,142.29 L351.98,141.76 L352.32,141.23 L352.67,140.70 L353.01,140.17 L353.34,139.64 L353.68,139.10 L354.01,138.57 L354.34,138.03 L354.67,137.50 L355.00,136.96 L355.33,136.42 L355.65,135.88 L355.97,135.34 L356.29,134.79 L356.60,134.25 L356.92,133.70 L357.23,133.16 L357.54,132.61 L357.85,132.06 L358.15,131.51 L358.45,130.96 L358.75,130.41 L359.05,129.85 L359.34,129.30 L359.63,128.74 L359.92,128.19 L360.21,127.63 L360.49,127.07 L360.77,126.51 L361.05,125.94 L361.33,125.38 L361.60,124.81 L361.87,124.25 L362.14,123.68 L362.40,123.11 L362.66,122.54 L362.92,121.97 L363.18,121.40 L363.43,120.82 L363.68,120.25 L363.93,119.67 L364.17,119.09 L364.41,118.51 L364.65,117.93 L364.89,117.34 L365.12,116.76 L365.35,116.17 L365.57,115.59 L365.79,115.00 L366.01,114.41 L366.23,113.82 L366.44,113.22 L366.65,112.63 L366.85,112.03 L367.06,111.44 L367.26,110.84 L367.45,110.24 L367.64,109.64 L367.83,109.03 L368.02,108.43 L368.20,107.83 L368.39,107.22 L368.56,106.61 L368.74,106.00 L368.91,105.39 L369.08,104.78 L369.25,104.17 L369.41,103.56 L369.57,102.95 L369.73,102.33 L369.89,101.72 L370.05,101.10 L370.20,100.48 L370.35,99.87 L370.50,99.25 L370.64,98.63 L370.79,98.01 L370.93,97.39 L371.07,96.77 L371.21,96.15 L371.34,95.53 L371.48,94.91 L371.61,94.29 L371.74,93.66 L371.87,93.04 L372.00,92.42 L372.13,91.79 L372.25,91.17 L372.37,90.55 L372.50,89.92 L372.62,89.30 L372.73,88.68 L372.85,88.05 L372.97,87.43 L373.08,86.80 L373.20,86.18 L373.31,85.55 L373.42,84.93 L373.53,84.30 L373.64,83.67 L373.74,83.05 L373.85,82.42 L373.96,81.80 L374.06,81.17 L374.16,80.54 L374.26,79.92 L374.37,79.29 L374.47,78.66 L374.56,78.03 L374.66,77.41 L374.76,76.78 L374.86,76.15 L374.95,75.53 L375.05,74.90 L375.14,74.27 L375.23,73.64 L375.33,73.02 L375.42,72.39 L375.51,71.76 L375.60,71.13 L375.69,70.51 L375.78,69.88 L375.87,69.25 L375.96,68.62 L376.05,68.00 L376.13,67.37 L376.22,66.74 L376.31,66.11 L376.40,65.49 L376.48,64.86 L376.57,64.23 L376.65,63.60 L376.74,62.98 L376.82,62.35 L376.91,61.72 L376.99,61.10 L377.08,60.47 L377.16,59.84 L377.25,59.22 L377.33,58.59 L377.42,57.97 L377.50,57.34 L377.59,56.71 L377.67,56.09 L377.76,55.46 L377.84,54.84 L377.93,54.21 L378.02,53.59 L378.10,52.96 L378.19,52.34 L378.27,51.72 L378.36,51.09 L378.45,50.47 L378.54,49.85 L378.62,49.22 L378.71,48.60 L378.80,47.98 L378.89,47.35 L378.98,46.73 L379.07,46.11 L379.16,45.49 L379.25,44.87 L379.35,44.25 L379.44,43.63" stroke="#0000aa" stroke-dasharray="5.7 5.7"/>
<path d="M441.96,43.63 L442.05,44.25 L442.15,44.87 L442.24,45.49 L442.33,46.11 L442.42,46.73 L442.51,47.35 L442.60,47.98 L442.69,48.60 L442.78,49.22 L442.86,49.85 L442.95,50.47 L443.04,51.09 L443.13,51.72 L443.21,52.34 L443.30,52.96 L443.38,53.59 L443.47,54.21 L443.56,54.84 L443.64,55.46 L443.73,56.09 L443.81,56.71 L443.90,57.34 L443.98,57.97 L444.07,58.59 L444.15,59.22 L444.24,59.84 L444.32,60.47 L444.41,61.10 L444.49,61.72 L444.58,62.35 L444.66,62.98 L444.75,63.60 L444.83,64.23 L444.92,64.86 L445.00,65.49 L445.09,66.11 L445.18,66.74 L445.27,67.37 L445.35,68.00 L445.44,68.62 L445.53,69.25 L445.62,69.88 L445.71,70.51 L445.80,71.13 L445.89,71.76 L445.98,72.39 L446.07,73.02 L446.17,73.64 L446.26,74.27 L446.35,74.90 L446.45,75.53 L446.54,76.15 L446.64,76.78 L446.74,77.41 L446.84,78.03 L446.93,78.66 L447.03,79.29 L447.14,79.92 L447.24,80.54 L447.34,81.17 L447.44,81.80 L447.55,82.42 L447.66,83.05 L447.76,83.67 L447.87,84.30 L447.98,84.93 L448.09,85.55 L448.20,86.18 L448.32,86.80 L448.43,87.43 L448.55,88.05 L448.67,88.68 L448.78,89.30 L448.90,89.92 L449.03,90.55 L449.15,91.17 L449.27,91.79 L449.40,92.42 L449.53,93.04 L449.66,93.66 L449.79,94.29 L449.92,94.91 L450.06,95.53 L450.19,96.15 L450.33,96.77 L450.47,97.39 L450.61,98.01 L450.76,98.63 L450.90,99.25 L451.05,99.87 L451.20,100.48 L451.35,101.10 L451.51,101.72 L451.67,102.33 L451.83,102.95 L451.99,103.56 L452.15,104.17 L452.32,104.78 L452.49,105.39 L452.66,106.00 L452.84,106.61 L453.01,107.22 L453.20,107.83 L453.38,108.43 L453.57,109.03 L453.76,109.64 L453.95,110.24 L454.14,110.84 L454.34,111.44 L454.55,112.03 L454.75,112.63 L454.96,113.22 L455.17,113.82 L455.39,114.41 L455.61,115.00 L455.83,115.59 L456.05,116.17 L456.28,116.76 L456.51,117.34 L456.75,117.93 L456.99,118.51 L457.23,119.09 L457.47,119.67 L457.72,120.25 L457.97,120.82 L458.22,121.40 L458.48,121.97 L458.74,122.54 L459.00,123.11 L459.26,123.68 L459.53,124.25 L459.80,124.81 L460.07,125.38 L460.35,125.94 L460.63,126.51 L460.91,127.07 L461.19,127.63 L461.48,128.19 L461.77,128.74 L462.06,129.30 L462.35,129.85 L462.65,130.41 L462.95,130.96 L463.25,131.51 L463.55,132.06 L463.86,132.61 L464.17,133.16 L464.48,133.70 L464.80,134.25 L465.11,134.79 L465.43,135.34 L465.75,135.88 L466.07,136.42 L466.40,136.96 L466.73,137.50 L467.06,138.03 L467.39,138.57 L467.72,139.10 L468.06,139.64 L468.39,140.17 L468.73,140.70 L469.08,141.23 L469.42,141.76 L469.76,142.29 L470.11,142.82 L470.46,143.34 L470.81,143.87 L471.17,144.39 L471.52,144.92 L471.88,145.44 L472.24,145.96 L472.30,146.05" stroke="#0000aa" stroke-dasharray="5.7 5.7"/>
<path d="M472.28,146.06 L472.54,146.46 L472.81,146.85 L473.08,147.25 L473.35,147.63 L473.63,148.02 L473.91,148.40 L474.20,148.78 L474.49,149.15 L474.78,149.52 L475.07,149.89 L475.37,150.26 L475.67,150.62 L475.98,150.97 L476.29,151.33 L476.60,151.68 L476.92,152.03 L477.24,152.37 L477.56,152.71 L477.88,153.05 L478.21,153.38 L478.54,153.71 L478.87,154.04 L479.21,154.36 L479.55,154.68 L479.89,155.00 L480.24,155.32 L480.59,155.63 L480.94,155.93 L481.29,156.24 L481.65,156.54 L482.01,156.84 L482.37,157.13 L482.73,157.43 L483.10,157.72 L483.47,158.00 L483.84,158.28 L484.21,158.56 L484.59,158.84 L484.97,159.12 L485.35,159.39 L485.73,159.66 L486.12,159.92 L486.50,160.18 L486.89,160.44 L487.29,160.70 L487.68,160.95 L488.07,161.20 L488.47,161.45 L488.87,161.70 L489.27,161.94 L489.68,162.18 L490.08,162.41 L490.49,162.65 L490.90,162.88 L491.31,163.11 L491.72,163.33 L492.13,163.56 L492.55,163.78 L492.96,163.99 L493.38,164.21 L493.80,164.42 L494.22,164.63 L494.64,164.84 L495.07,165.04 L495.49,165.25 L495.92,165.45 L496.34,165.64 L496.77,165.84 L497.20,166.03 L497.63,166.22 L498.06,166.41 L498.49,166.59 L498.93,166.77 L499.36,166.95 L499.80,167.13 L500.23,167.30 L500.67,167.48 L501.11,167.65 L501.55,167.82 L501.99,167.98 L502.43,168.15 L502.87,168.31 L503.31,168.47 L503.75,168.62 L504.20,168.78 L504.64,168.93 L505.09,169.08 L505.53,169.23 L505.98,169.37 L506.43,169.52 L506.87,169.66 L507.32,169.80 L507.77,169.94 L508.22,170.07 L508.67,170.21 L509.12,170.34 L509.57,170.47 L510.02,170.60 L510.47,170.72 L510.93,170.85 L511.38,170.97 L511.83,171.09 L512.28,171.21 L512.74,171.33 L513.19,171.44 L513.65,171.56 L514.10,171.67 L514.56,171.78 L515.01,171.89 L515.47,172.00 L515.93,172.11 L516.38,172.21 L516.84,172.32 L517.30,172.42 L517.76,172.52 L518.21,172.62 L518.67,172.72 L519.13,172.82 L519.59,172.92 L520.05,173.01 L520.51,173.11 L520.97,173.20 L521.43,173.29 L521.89,173.38 L522.35,173.48 L522.81,173.57 L523.27,173.65 L523.73,173.74 L524.19,173.83 L524.65,173.92 L525.11,174.00 L525.57,174.09 L526.03,174.17 L526.49,174.26 L526.95,174.34 L527.41,174.43 L527.87,174.51 L528.33,174.59 L528.79,174.67 L529.25,174.75 L529.71,174.84 L530.17,174.92 L530.64,175.00 L531.10,175.08 L531.56,175.16 L532.02,175.24 L532.48,175.32 L532.94,175.40 L533.40,175.48" stroke="#0000aa" stroke-dasharray="5.7 5.7"/>
</g>
<g font-family="Liberation Sans, sans-serif" fill="#000" style="filter:grayscale(1)">
<text transform="translate(303.76,209.90) scale(0.9783,1)" font-size="13.1">−0.04</text>
<text transform="translate(349.66,209.90) scale(0.9738,1)" font-size="13.1">−0.02</text>
<text transform="translate(443.17,209.90) scale(1.0123,1)" font-size="13.1">0.02</text>
<text transform="translate(488.68,209.90) scale(1.0015,1)" font-size="13.1">0.04</text>
<text transform="translate(388.37,177.07) scale(1.0100,1)" font-size="13.1">0.2</text>
<text transform="translate(388.38,156.09) scale(0.9947,1)" font-size="13.1">0.4</text>
<text transform="translate(388.37,135.11) scale(1.0061,1)" font-size="13.1">0.6</text>
<text transform="translate(388.37,114.13) scale(1.0023,1)" font-size="13.1">0.8</text>
<text transform="translate(387.60,93.15) scale(1.0462,1)" font-size="13.1">1.0</text>
<text transform="translate(387.58,72.17) scale(1.0631,1)" font-size="13.1">1.2</text>
<text transform="translate(387.61,51.19) scale(1.0379,1)" font-size="13.1">1.4</text>
</g>
<rect x="513.6" y="0" width="2" height="361" fill="#fff"/>
</svg>
</body></html>
